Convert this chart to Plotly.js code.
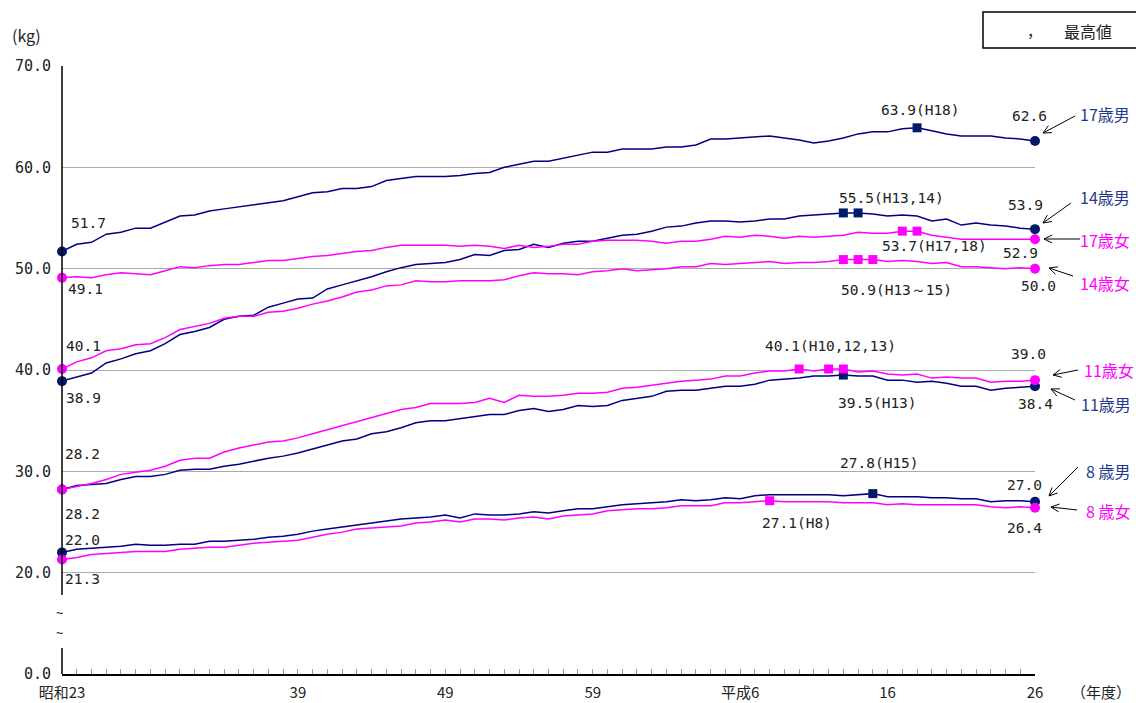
<!DOCTYPE html>
<html><head><meta charset="utf-8">
<script src="https://cdn.plot.ly/plotly-3.0.1.min.js"></script>
<style>html,body{margin:0;padding:0;background:#fff}#chart{width:1136px;height:703px}</style>
</head><body><div id="chart"></div>
<script>
// ---- data (kg), 昭和23(1948) .. 平成26(2014) ----
const years = [1948,1949,1950,1951,1952,1953,1954,1955,1956,1957,1958,1959,1960,1961,1962,1963,1964,1965,1966,1967,1968,1969,1970,1971,1972,1973,1974,1975,1976,1977,1978,1979,1980,1981,1982,1983,1984,1985,1986,1987,1988,1989,1990,1991,1992,1993,1994,1995,1996,1997,1998,1999,2000,2001,2002,2003,2004,2005,2006,2007,2008,2009,2010,2011,2012,2013,2014];
const tickYears = [1948,1964,1974,1984,1994,2004,2014];
const tickLabels = ["昭和23","39","49","59","平成6","16","26"];
const yTickVals = [10,20,30,40,50,60,70];
const yTickText = ["0.0","20.0","30.0","40.0","50.0","60.0","70.0"];

const boys17 = [51.7,52.4,52.6,53.4,53.6,54.0,54.0,54.6,55.2,55.3,55.7,55.9,56.1,56.3,56.5,56.7,57.1,57.5,57.6,57.9,57.9,58.1,58.7,58.9,59.1,59.1,59.1,59.2,59.4,59.5,60.0,60.3,60.6,60.6,60.9,61.2,61.5,61.5,61.8,61.8,61.8,62.0,62.0,62.2,62.8,62.8,62.9,63.0,63.1,62.9,62.7,62.4,62.6,62.9,63.3,63.5,63.5,63.8,63.9,63.6,63.3,63.1,63.1,63.1,62.9,62.8,62.6];
const boys14 = [38.9,39.3,39.7,40.7,41.1,41.6,41.9,42.6,43.5,43.8,44.2,45.0,45.3,45.4,46.2,46.6,47.0,47.1,48.0,48.4,48.8,49.2,49.7,50.1,50.4,50.5,50.6,50.9,51.4,51.3,51.8,51.9,52.4,52.1,52.5,52.7,52.7,53.0,53.3,53.4,53.7,54.1,54.2,54.5,54.7,54.7,54.6,54.7,54.9,54.9,55.2,55.3,55.4,55.5,55.5,55.4,55.2,55.3,55.2,54.7,54.9,54.3,54.5,54.3,54.2,54.0,53.9];
const boys11 = [28.2,28.6,28.7,28.8,29.2,29.5,29.5,29.7,30.1,30.2,30.2,30.5,30.7,31.0,31.3,31.5,31.8,32.2,32.6,33.0,33.2,33.7,33.9,34.3,34.8,35.0,35.0,35.2,35.4,35.6,35.6,36.0,36.2,35.9,36.1,36.5,36.4,36.5,37.0,37.2,37.4,37.9,38.0,38.0,38.2,38.4,38.4,38.6,39.0,39.1,39.2,39.4,39.4,39.5,39.4,39.4,39.0,39.0,38.8,38.9,38.7,38.4,38.4,38.0,38.2,38.3,38.4];
const boys8 = [22.0,22.3,22.4,22.5,22.6,22.8,22.7,22.7,22.8,22.8,23.1,23.1,23.2,23.3,23.5,23.6,23.8,24.1,24.3,24.5,24.7,24.9,25.1,25.3,25.4,25.5,25.7,25.4,25.8,25.7,25.7,25.8,26.0,25.9,26.1,26.3,26.3,26.5,26.7,26.8,26.9,27.0,27.2,27.1,27.2,27.4,27.3,27.6,27.7,27.7,27.7,27.7,27.7,27.6,27.7,27.8,27.5,27.5,27.5,27.4,27.4,27.3,27.3,27.0,27.1,27.1,27.0];
const girls17 = [49.1,49.2,49.1,49.4,49.6,49.5,49.4,49.8,50.2,50.1,50.3,50.4,50.4,50.6,50.8,50.8,51.0,51.2,51.3,51.5,51.7,51.8,52.1,52.3,52.3,52.3,52.3,52.2,52.3,52.2,52.0,52.3,52.1,52.2,52.4,52.4,52.7,52.8,52.8,52.8,52.7,52.5,52.7,52.7,52.9,53.2,53.1,53.3,53.2,53.0,53.2,53.1,53.2,53.3,53.6,53.5,53.5,53.7,53.7,53.3,53.1,52.9,52.9,52.9,52.9,52.9,52.9];
const girls14 = [40.1,40.8,41.2,41.9,42.1,42.5,42.6,43.2,44.0,44.3,44.6,45.1,45.3,45.3,45.7,45.8,46.1,46.5,46.8,47.2,47.7,47.9,48.3,48.4,48.8,48.7,48.7,48.8,48.8,48.8,48.9,49.3,49.6,49.5,49.5,49.4,49.7,49.8,50.0,49.8,49.9,50.0,50.2,50.2,50.5,50.4,50.5,50.6,50.7,50.5,50.6,50.6,50.7,50.9,50.9,50.9,50.7,50.8,50.7,50.5,50.6,50.2,50.2,50.1,50.0,50.1,50.0];
const girls11 = [28.2,28.5,28.8,29.2,29.7,29.9,30.1,30.5,31.1,31.3,31.3,31.9,32.3,32.6,32.9,33.0,33.3,33.7,34.1,34.5,34.9,35.3,35.7,36.1,36.3,36.7,36.7,36.7,36.8,37.2,36.8,37.5,37.4,37.4,37.5,37.7,37.7,37.8,38.2,38.3,38.5,38.7,38.9,39.0,39.1,39.4,39.4,39.7,39.9,39.9,40.1,39.9,40.1,40.1,39.8,39.9,39.6,39.5,39.6,39.2,39.3,39.2,39.2,38.8,38.9,38.9,39.0];
const girls8 = [21.3,21.5,21.8,21.9,22.0,22.1,22.1,22.1,22.3,22.4,22.5,22.5,22.7,22.9,23.0,23.1,23.2,23.5,23.8,24.0,24.3,24.4,24.5,24.6,24.9,25.0,25.2,25.0,25.3,25.3,25.2,25.4,25.5,25.3,25.6,25.7,25.8,26.1,26.2,26.3,26.3,26.4,26.6,26.6,26.6,26.9,26.9,27.0,27.1,27.0,27.0,27.0,27.0,26.9,26.9,26.9,26.7,26.8,26.7,26.7,26.7,26.7,26.7,26.5,26.4,26.5,26.4];

// ---- styling ----
const NAVY = "#000080", NAVY_MK = "#001a66", PINK = "#ff00ff", NAVY_TXT = "#1f3a8c";
const MONO = "DejaVu Sans Mono, monospace";
const JP = "Noto Sans CJK JP, sans-serif";

// plot area in pixels
const L = 62, T = 66, W = 973, H = 608;
const px = p => (p - L) / W;
const py = p => 1 - (p - T) / H;

// boys first, girls drawn on top
const series = [
  {name:"17歳男", d:boys17,  c:NAVY, mk:NAVY_MK, tc:NAVY_TXT, st:[26,28],  en:[-6,25],  mx:[-38,18],  lab:[1105,114], ar:[1075,116,1043,133]},
  {name:"14歳男", d:boys14,  c:NAVY, mk:NAVY_MK, tc:NAVY_TXT, st:[21,-17], en:[-10,24], mx:[-6,15],   lab:[1105,197], ar:[1071,203,1043,223]},
  {name:"11歳男", d:boys11,  c:NAVY, mk:NAVY_MK, tc:NAVY_TXT, st:[20,-24], en:[0,-18],  mx:[-7,-28],  lab:[1106,404], ar:[1075,400,1051,389]},
  {name:"8 歳男", d:boys8,   c:NAVY, mk:NAVY_MK, tc:NAVY_TXT, st:[20,12],  en:[-11,17], mx:[-35,31],  lab:[1108,471], ar:[1078,467,1049,496]},
  {name:"17歳女", d:girls17, c:PINK, mk:PINK,    tc:PINK,     st:[23,-11], en:[-15,-14],mx:[-22,-15], lab:[1105,240], ar:[1080,239,1044,239]},
  {name:"14歳女", d:girls14, c:PINK, mk:PINK,    tc:PINK,     st:[21,23],  en:[3,-17],  mx:[-4,-30],  lab:[1105,283], ar:[1073,276,1049,268]},
  {name:"11歳女", d:girls11, c:PINK, mk:PINK,    tc:PINK,     st:[20,36],  en:[-7,26],  mx:[-36,23],  lab:[1109,370], ar:[1078,370,1053,375]},
  {name:"8 歳女", d:girls8,  c:PINK, mk:PINK,    tc:PINK,     st:[20,-20], en:[-11,-20],mx:[-10,-22], lab:[1108,511], ar:[1077,510,1051,507]}
];

const traces = [], annotations = [], shapes = [];
const last = years.length - 1;

function heiseiText(idx){
  const h = idx.map(i => years[i] - 1988);
  if (h.length >= 3 && h[h.length-1] - h[0] === h.length - 1) return "H" + h[0] + "～" + h[h.length-1];
  return "H" + h.join(",");
}
function note(x, y, text, font){
  return {xref: "paper", yref: "paper", x: px(x), y: py(y), text: text, showarrow: false,
    xanchor: "center", yanchor: "middle", font: font};
}

series.forEach(s => {
  traces.push({x: years, y: s.d, mode: "lines", line: {color: s.c, width: 1.5}, hoverinfo: "skip", cliponaxis: false, showlegend: false});
});
series.forEach(s => {
  const mv = Math.max(...s.d);
  const idx = s.d.map((v,i) => v === mv ? i : -1).filter(i => i >= 0);
  traces.push({x: idx.map(i => years[i]), y: idx.map(i => s.d[i]), mode: "markers",
    marker: {symbol: "square", size: 9, color: s.mk}, hoverinfo: "skip", cliponaxis: false, showlegend: false});
  traces.push({x: [years[0], years[last]], y: [s.d[0], s.d[last]], mode: "markers",
    marker: {symbol: "circle", size: 10, color: s.mk}, hoverinfo: "skip", cliponaxis: false, showlegend: false});
  const lab = {xref: "x", yref: "y", showarrow: false, font: {family: MONO, size: 14.5, color: "#222"}, yanchor: "middle"};
  annotations.push(Object.assign({}, lab, {x: years[0], y: s.d[0], text: s.d[0].toFixed(1), xanchor: "center", xshift: s.st[0], yshift: s.st[1]}));
  annotations.push(Object.assign({}, lab, {x: years[last], y: s.d[last], text: s.d[last].toFixed(1), xanchor: "center", xshift: s.en[0], yshift: s.en[1]}));
  annotations.push(Object.assign({}, lab, {x: years[idx[0]], y: mv, text: mv.toFixed(1) + "(" + heiseiText(idx) + ")", xanchor: "left", xshift: s.mx[0], yshift: s.mx[1]}));
  annotations.push(note(s.lab[0], s.lab[1], s.name, {family: JP, size: 16, color: s.tc}));
  // open-head arrow
  const [tx, ty, hx, hy] = s.ar;
  const ang = Math.atan2(ty - hy, tx - hx), len = 9, spread = 0.45;
  const a1 = [hx + len*Math.cos(ang+spread), hy + len*Math.sin(ang+spread)];
  const a2 = [hx + len*Math.cos(ang-spread), hy + len*Math.sin(ang-spread)];
  const P = (x,y) => px(x).toFixed(5) + "," + py(y).toFixed(5);
  shapes.push({type: "path", xref: "paper", yref: "paper",
    path: "M" + P(tx,ty) + " L" + P(hx,hy) + " M" + P(a1[0],a1[1]) + " L" + P(hx,hy) + " L" + P(a2[0],a2[1]),
    line: {color: "#000", width: 1}});
});

// broken y axis line
shapes.push({type: "line", xref: "paper", yref: "paper", x0: 0, x1: 0, y0: py(595), y1: 1, line: {color: "#000", width: 1.5}});
shapes.push({type: "line", xref: "paper", yref: "paper", x0: 0, x1: 0, y0: 0, y1: py(648), line: {color: "#000", width: 1.5}});
// legend box
shapes.push({type: "rect", xref: "paper", yref: "paper", x0: px(983), x1: px(1145), y0: py(48), y1: py(12), line: {color: "#000", width: 1.5}});

annotations.push(note(59, 613, "~", {family: MONO, size: 12, color: "#222"}));
annotations.push(note(59, 633, "~", {family: MONO, size: 12, color: "#222"}));
annotations.push(note(26, 35, "(kg)", {family: JP, size: 16, color: "#222"}));
annotations.push(note(1101, 691, "（年度）", {family: JP, size: 15, color: "#222"}));
annotations.push(note(1034, 31, "，", {family: JP, size: 15, color: "#222"}));
annotations.push(note(1088, 31, "最高値", {family: JP, size: 16, color: "#222"}));

const layout = {
  width: 1136, height: 703,
  margin: {l: L, r: 1136 - L - W, t: T, b: 703 - T - H, pad: 0},
  paper_bgcolor: "#fff", plot_bgcolor: "#fff",
  showlegend: false,
  xaxis: {range: [1948, 2014], tickmode: "array", tickvals: years,
    ticktext: years.map(y => { const k = tickYears.indexOf(y); return k >= 0 ? tickLabels[k] : ""; }),
    ticks: "inside", ticklen: 5, tickcolor: "#999", tickwidth: 1,
    showline: true, linecolor: "#000", linewidth: 1.5, showgrid: false, zeroline: false,
    tickfont: {family: JP, size: 15, color: "#222"}, ticklabelstandoff: 4, fixedrange: true},
  yaxis: {range: [10, 70], tickmode: "array", tickvals: yTickVals, ticktext: yTickText,
    ticks: "", showline: false, showgrid: true, gridcolor: "#aaaaaa", gridwidth: 1, zeroline: false,
    tickfont: {family: MONO, size: 15, color: "#222"}, ticklabelstandoff: 10, fixedrange: true},
  annotations: annotations,
  shapes: shapes
};

Plotly.newPlot("chart", traces, layout, {displayModeBar: false, staticPlot: true});
</script>
</body></html>
